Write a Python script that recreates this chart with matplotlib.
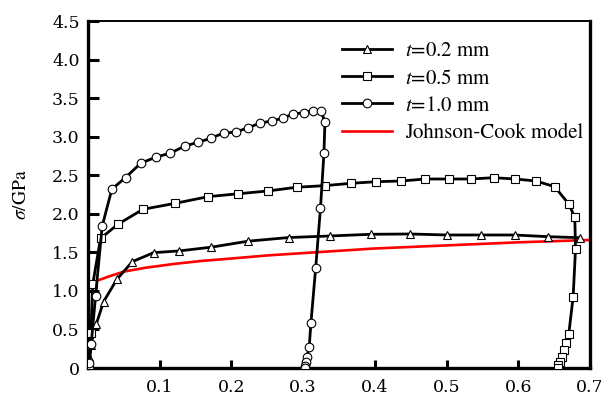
import matplotlib
matplotlib.use('Agg')
import matplotlib.pyplot as plt
from matplotlib.ticker import FixedLocator, FuncFormatter

plt.rcParams['mathtext.fontset'] = 'stix'

# t = 0.2 mm (triangles)
strain_02 = [0.001, 0.002, 0.004, 0.0115, 0.0217, 0.0403, 0.0618, 0.0915, 0.1269,
             0.172, 0.2233, 0.2799, 0.3374, 0.3943, 0.4492, 0.5005, 0.5484, 0.595,
             0.6416, 0.6858]
stress_02 = [0.0, 0.147, 0.30, 0.567, 0.86, 1.15, 1.379, 1.496, 1.518,
             1.567, 1.645, 1.692, 1.712, 1.734, 1.738, 1.725, 1.725, 1.725,
             1.703, 1.69]

# t = 0.5 mm (squares)
strain_05 = [0.001, 0.004, 0.0067, 0.0175, 0.0417, 0.0766, 0.1218, 0.1674, 0.2098,
             0.2512, 0.2909, 0.3304, 0.3664, 0.4017, 0.4366, 0.4702, 0.5027, 0.534,
             0.5656, 0.5959, 0.6248, 0.6508, 0.6704, 0.6788, 0.6798, 0.6765, 0.6704,
             0.6668, 0.6644, 0.6612, 0.6578, 0.6556, 0.655]
stress_05 = [0.0, 0.45, 1.09, 1.68, 1.864, 2.058, 2.136, 2.222, 2.26,
             2.296, 2.344, 2.365, 2.395, 2.416, 2.425, 2.451, 2.451, 2.451,
             2.468, 2.451, 2.425, 2.351, 2.127, 1.955, 1.54, 0.925, 0.441,
             0.32, 0.233, 0.147, 0.082, 0.04, 0.0]

# t = 1.0 mm (circles)
strain_10 = [0.002, 0.0045, 0.0105, 0.0198, 0.0333, 0.0524, 0.0734, 0.0953, 0.1143,
             0.1353, 0.1534, 0.1712, 0.1893, 0.2057, 0.2233, 0.2396, 0.256, 0.2713,
             0.2862, 0.3011, 0.3141, 0.3249, 0.3304, 0.329, 0.3242, 0.3175, 0.3109,
             0.3085, 0.3053, 0.304, 0.3025, 0.302]
stress_10 = [0.06, 0.31, 0.93, 1.84, 2.32, 2.47, 2.655, 2.737, 2.785,
             2.879, 2.927, 2.979, 3.048, 3.057, 3.117, 3.174, 3.204, 3.239,
             3.294, 3.311, 3.337, 3.337, 3.187, 2.785, 2.075, 1.297, 0.588,
             0.276, 0.14, 0.08, 0.03, 0.0]

# Johnson-Cook model
strain_jc = [0.015, 0.03, 0.05, 0.08, 0.12, 0.16, 0.2, 0.25, 0.3, 0.35, 0.4,
             0.45, 0.5, 0.55, 0.6, 0.65, 0.7]
stress_jc = [1.14, 1.19, 1.25, 1.30, 1.35, 1.39, 1.42, 1.46, 1.49, 1.52, 1.55,
             1.57, 1.59, 1.61, 1.63, 1.645, 1.66]

labels = [r'$t$=0.2 mm', r'$t$=0.5 mm', r'$t$=1.0 mm', 'Johnson-Cook model']

fig = plt.figure(figsize=(6.01, 4.07), dpi=100)
ax = fig.add_axes([0.1464, 0.0958, 0.8353, 0.8526])

mk = dict(color='black', lw=2.0, markersize=6.2, markerfacecolor='white',
          markeredgecolor='black', markeredgewidth=0.8)
ax.plot(strain_jc, stress_jc, color='red', lw=1.9, zorder=2, label=labels[3])
ax.plot(strain_02, stress_02, marker='^', label=labels[0], zorder=3, **mk)
ax.plot(strain_05, stress_05, marker='s', label=labels[1], zorder=3, **mk)
ax.plot(strain_10, stress_10, marker='o', label=labels[2], zorder=3, **mk)

ax.set_xlim(0, 0.7)
ax.set_ylim(0, 4.5)
ax.xaxis.set_major_locator(FixedLocator([0.1, 0.2, 0.3, 0.4, 0.5, 0.6, 0.7]))
ax.yaxis.set_major_locator(FixedLocator([0, 0.5, 1.0, 1.5, 2.0, 2.5, 3.0, 3.5, 4.0, 4.5]))
ax.yaxis.set_major_formatter(FuncFormatter(lambda v, p: '0' if v == 0 else f'{v:.1f}'))
ax.xaxis.set_major_formatter(FuncFormatter(lambda v, p: f'{v:.1f}'))

for lab in ax.get_xticklabels() + ax.get_yticklabels():
    lab.set_family('DejaVu Serif')
    lab.set_fontsize(12.5)
ax.tick_params(axis='y', direction='in', length=8, width=2.2, pad=6)
ax.tick_params(axis='x', direction='in', length=6, width=2.2, pad=8)

for side in ['left', 'bottom', 'right']:
    ax.spines[side].set_linewidth(2.4)
ax.spines['top'].set_linewidth(1.4)

ax.set_ylabel(r'$\sigma$/GPa', fontsize=14, family='STIXGeneral', labelpad=16)
ax.set_xlabel(r'$\varepsilon$', fontsize=16, labelpad=4)

handles, labs = ax.get_legend_handles_labels()
order = [1, 2, 3, 0]
leg = ax.legend([handles[i] for i in order], [labs[i] for i in order],
                loc='upper left', bbox_to_anchor=(0.49, 0.965), frameon=False,
                numpoints=1, handlelength=2.4, handletextpad=0.6,
                labelspacing=0.36, prop={'family': 'STIXGeneral', 'size': 15},
                borderaxespad=0)

fig.savefig('out.png', dpi=100)
